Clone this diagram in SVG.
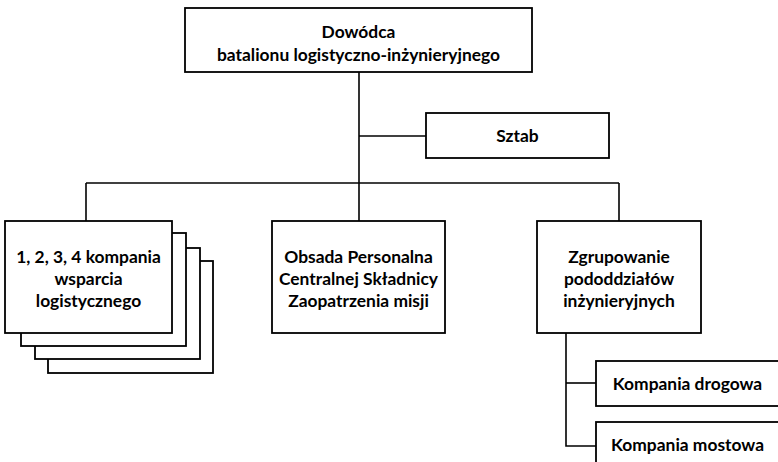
<svg xmlns="http://www.w3.org/2000/svg" width="778" height="462" viewBox="0 0 778 462">
<style>
.box{fill:#fff;stroke:#000;stroke-width:1.8}
.ln{fill:none;stroke:#000;stroke-width:1.6}
text{font-family:Lato,"Open Sans","Liberation Sans",sans-serif;font-weight:bold;font-size:17.4px;fill:#000;text-anchor:middle}
</style>
<rect width="778" height="462" fill="#fff"/>
<g id="connectors">
<path class="ln" d="M359,72 V183"/>
<path class="ln" d="M359,136 H426"/>
<path class="ln" d="M86,183 H619"/>
<path class="ln" d="M86,183 V221"/>
<path class="ln" d="M359,183 V221"/>
<path class="ln" d="M619,183 V221"/>
<path class="ln" d="M566,333 V446 H596"/>
<path class="ln" d="M566,383 H596"/>
</g>
<g id="dowodca">
<rect class="box" x="185" y="8" width="347" height="64"/>
<text x="358.5" y="38">Dowódca</text>
<text x="358.5" y="61">batalionu logistyczno-inżynieryjnego</text>
</g>
<g id="sztab">
<rect class="box" x="426" y="113" width="183" height="45"/>
<text x="517.5" y="142">Sztab</text>
</g>
<g id="kompanie-wsparcia">
<rect class="box" x="48" y="261" width="165" height="112"/>
<rect class="box" x="35" y="248" width="165" height="111"/>
<rect class="box" x="21" y="233" width="165" height="113"/>
<rect class="box" x="5" y="221" width="167" height="112"/>
<text x="88.5" y="263">1, 2, 3, 4 kompania</text>
<text x="88.5" y="285">wsparcia</text>
<text x="88.5" y="307">logistycznego</text>
</g>
<g id="obsada">
<rect class="box" x="272" y="221" width="173" height="112"/>
<text x="358.5" y="263">Obsada Personalna</text>
<text x="358.5" y="285">Centralnej Składnicy</text>
<text x="358.5" y="307">Zaopatrzenia misji</text>
</g>
<g id="zgrupowanie">
<rect class="box" x="537" y="221" width="164" height="112"/>
<text x="619" y="263">Zgrupowanie</text>
<text x="619" y="285">pododdziałów</text>
<text x="619" y="307">inżynieryjnych</text>
</g>
<g id="kompania-drogowa">
<rect class="box" x="596" y="361" width="200" height="45"/>
<text x="687.5" y="390">Kompania drogowa</text>
</g>
<g id="kompania-mostowa">
<rect class="box" x="596" y="422" width="200" height="60"/>
<text x="687.5" y="451">Kompania mostowa</text>
</g>
</svg>
